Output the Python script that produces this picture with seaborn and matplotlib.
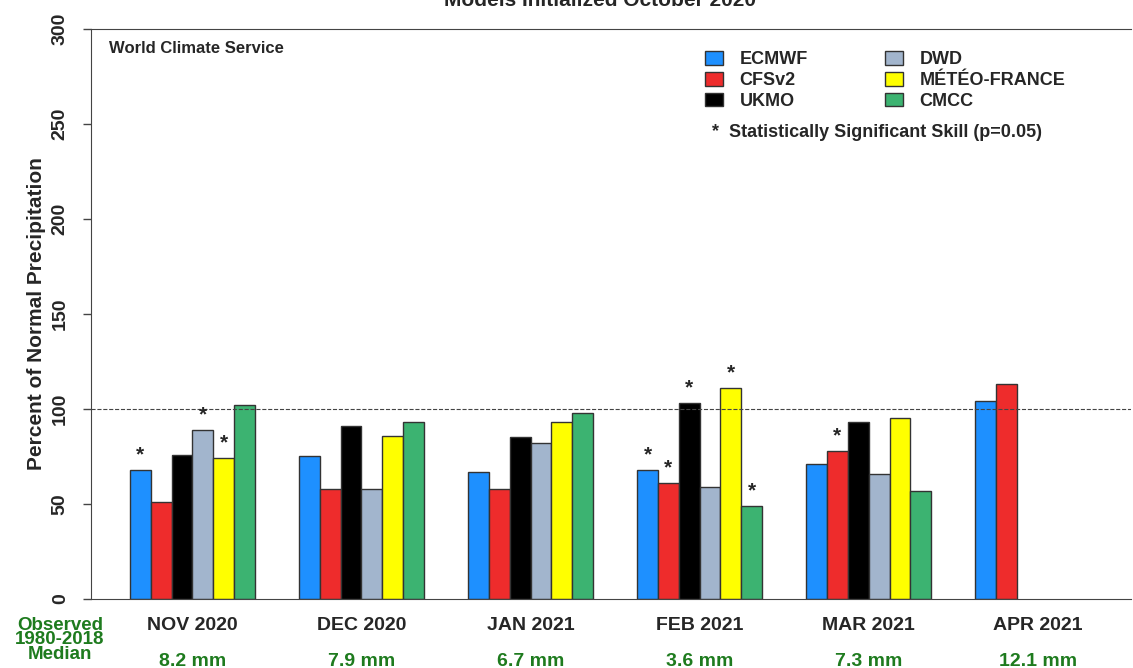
import matplotlib
matplotlib.use("Agg")
import matplotlib.pyplot as plt
import seaborn as sns
import pandas as pd
import numpy as np
from matplotlib.patches import Patch

months = ["NOV 2020", "DEC 2020", "JAN 2021", "FEB 2021", "MAR 2021", "APR 2021"]
medians = ["8.2 mm", "7.9 mm", "6.7 mm", "3.6 mm", "7.3 mm", "12.1 mm"]
models = ["ECMWF", "CFSv2", "UKMO", "DWD", "MÉTÉO-FRANCE", "CMCC"]
colors = ["#1E90FF", "#EE2C2C", "#000000", "#A2B5CD", "#FFFF00", "#3CB371"]
ecmwf = [68, 75, 67, 68, 71, 104]
cfsv2 = [51, 58, 58, 61, 78, 113]
ukmo = [76, 91, 85, 103, 93, np.nan]
dwd = [89, 58, 82, 59, 66, np.nan]
meteo = [74, 86, 93, 111, 95, np.nan]
cmcc = [102, 93, 98, 49, 57, np.nan]
# significance stars: (month index, model index)
stars = [(0, 0), (0, 3), (0, 4), (3, 0), (3, 1), (3, 2), (3, 4), (3, 5), (4, 1)]

series = [ecmwf, cfsv2, ukmo, dwd, meteo, cmcc]
rows = []
for m, vals in zip(models, series):
    for mo, v in zip(months, vals):
        rows.append({"month": mo, "model": m, "value": v})
df = pd.DataFrame(rows)

sns.set_style("white")
plt.rcParams["font.family"] = ["Liberation Sans", "DejaVu Sans"]
plt.rcParams["font.weight"] = "bold"

fig = plt.figure(figsize=(11.33, 6.68), dpi=100)
ax = fig.add_axes([0.0803, 0.1033, 0.9177, 0.8533])
W = 0.74
sns.barplot(data=df, x="month", y="value", hue="model", order=months, hue_order=models,
            palette=colors, width=W, dodge=True, edgecolor="#333333", linewidth=1.0,
            ax=ax, legend=False, saturation=1)

ax.set_xlim(-0.6, 5.55)
ax.set_ylim(0, 300)
ax.axhline(100, color="#444444", ls="--", lw=0.8)
ax.set_yticks([0, 50, 100, 150, 200, 250, 300])
ax.set_yticklabels(["0", "50", "100", "150", "200", "250", "300"], rotation=90,
                   va="center", fontsize=14, fontweight="bold")
ax.tick_params(axis="y", length=6, width=1, color="#444444", left=True, pad=10)
ax.set_xticks([])
ax.set_xlabel("")
ax.set_ylabel("Percent of Normal Precipitation", fontsize=15, fontweight="bold", labelpad=4)
for s in ["left", "top", "bottom"]:
    ax.spines[s].set_visible(True)
    ax.spines[s].set_color("#444444")
ax.spines["right"].set_visible(False)

bw = W / 6
for (i, j) in stars:
    v = series[j][i]
    ax.text(i + (j - 2.5) * bw, v + 3, "*", ha="center", va="bottom", fontsize=15, fontweight="bold")

for i, (mo, md) in enumerate(zip(months, medians)):
    ax.text(i, -0.047, mo, transform=ax.get_xaxis_transform(), ha="center", va="center",
            fontsize=14, fontweight="bold")
    ax.text(i, -0.11, md, transform=ax.get_xaxis_transform(), ha="center", va="center",
            fontsize=14, fontweight="bold", color="#1E7B1E")
fig.text(0.053, 0.042, "Observed\n1980-2018\nMedian", ha="center", va="center",
         fontsize=13.5, fontweight="bold", color="#1E7B1E", linespacing=0.8)

ax.text(0.017, 0.965, "World Climate Service", transform=ax.transAxes, fontsize=12,
        fontweight="bold", va="center")
fig.text(0.53, 1.0, "Models Initialized October 2020", ha="center", va="center",
         fontsize=15, fontweight="bold")

handles = [Patch(facecolor=c, edgecolor="#333333", label=m) for m, c in zip(models, colors)]
ax.legend(handles, models, ncol=2, loc="upper left", bbox_to_anchor=(0.575, 0.99),
          frameon=False, fontsize=13, handlelength=1.0, handleheight=0.8, columnspacing=4.3,
          labelspacing=0.2, handletextpad=0.9)
ax.text(0.597, 0.818, "*  Statistically Significant Skill (p=0.05)", transform=ax.transAxes,
        fontsize=13, fontweight="bold", va="center")

fig.savefig("out.png", dpi=100)
